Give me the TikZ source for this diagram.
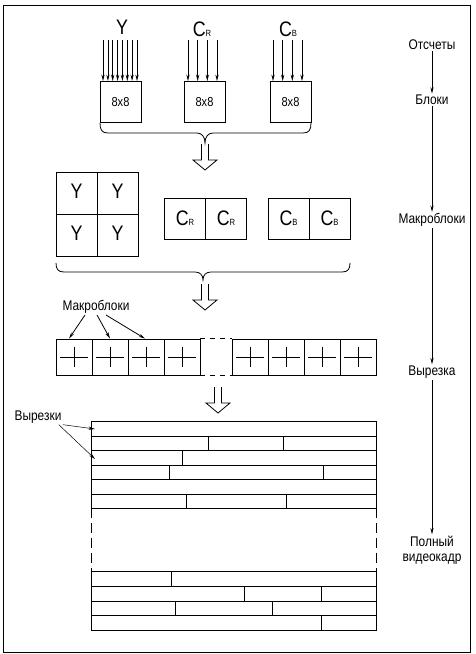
\documentclass[tikz,border=0pt]{standalone}
\usepackage{fontspec}
\setmainfont{Liberation Sans}[FakeStretch=0.85]
\usetikzlibrary{arrows.meta}

\begin{document}
\begin{tikzpicture}[x=1pt,y=-1pt,line width=0.8pt,>={Stealth[length=6.5pt,width=3.2pt]},
    lbl/.style={font=\fontsize{14}{15}\selectfont,inner sep=1pt},
    big/.style={font=\fontsize{21}{22}\selectfont,inner sep=0pt},
    blk/.style={draw,minimum width=41pt,minimum height=41pt,inner sep=0pt,font=\fontsize{13}{15}\selectfont},
    cell/.style={draw,minimum width=41pt,minimum height=41pt,inner sep=0pt,font=\fontsize{21}{22}\selectfont},
    mb/.style={draw,minimum width=36pt,minimum height=36pt,inner sep=0pt},
    hollowarrow/.pic={\draw (-3.5,0) -- (-3.5,16) -- (-12,16) -- (0,26) -- (12,16) -- (3.5,16) -- (3.5,0);}]

  \useasboundingbox (0,0) rectangle (476,654);
  \draw (3,5) rectangle (470,652);

  % samples and 8x8 blocks
  \node[big] (ylbl) at (122,27) {Y};
  \node[big] (crlbl) at (202,29) {C\fontsize{9}{9}\selectfont R};
  \node[big] (cblbl) at (288,29) {C\fontsize{9}{9}\selectfont B};

  \node[blk] (yblk) at (120.5,102) {8x8};
  \node[blk] (crblk) at (204.5,102) {8x8};
  \node[blk] (cbblk) at (290.5,102) {8x8};

  \foreach \x in {103,107.9,112.7,117.6,122.4,127.3,132.1,137}
    \draw[->] (\x,40) -- (\x,0 |- yblk.north);
  \foreach \x in {188,197.7,207.3,217}
    \draw[->] (\x,40) -- (\x,0 |- crblk.north);
  \foreach \x in {273,282.7,292.3,302}
    \draw[->] (\x,40) -- (\x,0 |- cbblk.north);

  \draw (100,123) .. controls (100,130) and (102,133) .. (108,133) -- (197,133)
    .. controls (202,133) and (205,137) .. (205,143) .. controls (205,137) and (208,133) .. (213,133)
    -- (303,133) .. controls (309,133) and (311,130) .. (311,123);
  \pic at (205,144) {hollowarrow};

  % macroblock
  \node[cell,minimum height=42pt] (y1) at (76.5,193) {\raisebox{4pt}{Y}};
  \node[cell,minimum height=42pt] (y2) at (117.5,193) {\raisebox{4pt}{Y}};
  \node[cell,minimum height=42pt] (y3) at (76.5,235) {\raisebox{4pt}{Y}};
  \node[cell,minimum height=42pt] (y4) at (117.5,235) {\raisebox{4pt}{Y}};
  \node[cell] (cr1) at (185,218.5) {C\fontsize{9}{9}\selectfont R};
  \node[cell] (cr2) at (226,218.5) {C\fontsize{9}{9}\selectfont R};
  \node[cell] (cb1) at (288.5,218.5) {C\fontsize{9}{9}\selectfont B};
  \node[cell] (cb2) at (329.5,218.5) {C\fontsize{9}{9}\selectfont B};

  \draw (56,263) .. controls (56,269) and (58,272) .. (64,272) -- (195,272)
    .. controls (200,272) and (203,275) .. (203,280) .. controls (203,275) and (206,272) .. (211,272)
    -- (342,272) .. controls (348,272) and (350,269) .. (350,263);
  \pic at (205,284) {hollowarrow};

  % slice
  \node[lbl] (mblbl) at (96,307) {Макроблоки};
  \foreach \i/\x in {1/74,2/110,3/146,4/182,5/250,6/286,7/322,8/358}
    \node[mb] (m\i) at (\x,357) {};
  \foreach \i in {1,...,8}
    \draw ([xshift=4pt]m\i.west) -- ([xshift=-4pt]m\i.east)
      ([yshift=-8pt]m\i.north) -- ([yshift=8pt]m\i.south);
  \draw[dash pattern=on 5pt off 5pt] (m4.north east) -- (m5.north west);
  \draw[dash pattern=on 5pt off 5pt] (m4.south east) -- (m5.south west);

  \draw[->] ([xshift=-11pt]mblbl.south) -- ([xshift=-5pt]m1.north);
  \draw[->] ([xshift=1pt]mblbl.south) -- (m2.north);
  \draw[->] ([xshift=10pt]mblbl.south) -- ([xshift=-1pt]m3.north);
  \pic at (218,387) {hollowarrow};

  % frame of slices
  \node[lbl] (vlbl) at (38,417) {Вырезки};
  \coordinate (sl1) at (95,429);
  \coordinate (sl2) at (95,459);
  \draw (91,421.7) rectangle (376,508);
  \draw (91,571.7) rectangle (376,630);
  \foreach \yy in {436,450,465.7,479,494,586.7,601,615.7}
    \draw (91,\yy) -- (376,\yy);
  \foreach \ya/\yb/\xs in {436/450/{208,283},450/465.7/{182},465.7/479/{169,323},
      494/508/{186,286},571.7/586.7/{171},586.7/601/{244,321},601/615.7/{175,272},615.7/630/{321}}
    \foreach \x in \xs
      \draw (\x,\ya) -- (\x,\yb);
  \draw[dash pattern=on 10pt off 5pt] (91,508) -- (91,571.7);
  \draw[dash pattern=on 10pt off 5pt] (376,508) -- (376,571.7);

  \draw[->,line width=0.5pt] (vlbl.south east) -- (sl1);
  \draw[->,line width=0.5pt] ([xshift=-4pt]vlbl.south east) -- (sl2);

  % levels
  \node[lbl] (r1) at (432,45) {Отсчеты};
  \node[lbl] (r2) at (432,100) {Блоки};
  \node[lbl] (r3) at (432,220) {Макроблоки};
  \node[lbl] (r4) at (432,372) {Вырезка};
  \node[lbl,align=center] (r5) at (432,550) {Полный\\видеокадр};
  \draw[->] (r1) -- (r2);
  \draw[->] (r2) -- (r3);
  \draw[->] (r3) -- (r4);
  \draw[->] (r4) -- (r5);
\end{tikzpicture}
\end{document}
